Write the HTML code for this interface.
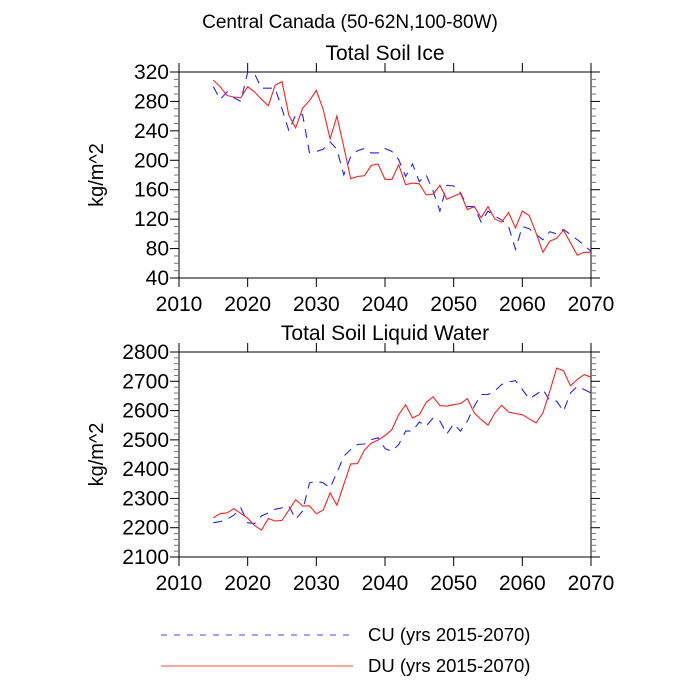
<!DOCTYPE html>
<html><head><meta charset="utf-8"><style>
html,body{margin:0;padding:0;background:#fff;}
svg{display:block;font-family:"Liberation Sans",sans-serif;}
</style></head><body>
<svg id="chart" width="700" height="700" viewBox="0 0 700 700">
<text x="350" y="28" font-size="19" text-anchor="middle">Central Canada (50-62N,100-80W)</text>
<g id="p1"></g>
<g id="p2"></g>
<g>
<line x1="161" y1="635" x2="353" y2="635" stroke="#4444ff" stroke-width="1" stroke-dasharray="6,7"/>
<text x="368" y="641" font-size="18.5">CU (yrs 2015-2070)</text>
<line x1="161" y1="666" x2="353" y2="666" stroke="#ff4444" stroke-width="1"/>
<text x="368" y="672" font-size="18.5">DU (yrs 2015-2070)</text>
</g>
</svg>
<script>
const years = [];
for (let y = 2015; y <= 2070; y++) years.push(y);
const iceCU = [300,283,293,285,280,320,318,298,298,298,270,240,262,262,210,212,215,225,215,180,205,213,216,210,210,216,212,201,178,195,171,180,158,131,166,165,156,137,137,116,131,124,119,110,79,110,107,99,92,103,100,106,99,92,85,76];
const iceDU = [309,300,288,286,285,300,293,283,274,302,307,261,244,271,281,295,269,229,260,218,175,178,179,193,195,174,174,194,167,169,168,153,154,166,147,151,155,133,137,122,137,120,116,129,108,131,125,101,75,90,94,105,88,71,75,75];
const liqCU = [2217,2221,2229,2243,2268,2217,2214,2240,2251,2263,2268,2274,2229,2257,2353,2359,2353,2336,2388,2444,2467,2484,2486,2501,2507,2470,2461,2484,2530,2530,2561,2547,2575,2564,2520,2555,2530,2564,2615,2655,2655,2668,2689,2698,2702,2672,2640,2655,2672,2634,2632,2598,2660,2683,2672,2660];
const liqDU = [2234,2248,2251,2265,2249,2232,2208,2192,2231,2223,2225,2260,2296,2274,2275,2248,2260,2319,2277,2348,2418,2419,2465,2489,2499,2515,2535,2586,2620,2575,2586,2628,2647,2617,2615,2620,2624,2641,2592,2569,2550,2592,2618,2595,2590,2586,2572,2558,2592,2666,2745,2736,2685,2706,2723,2714];
const xTicks = [2010,2020,2030,2040,2050,2060,2070];
const iceTicks = [40,80,120,160,200,240,280,320];
const liqTicks = [2100,2200,2300,2400,2500,2600,2700,2800];

const NS = "http://www.w3.org/2000/svg";
function mk(parent, tag, attrs) {
  const e = document.createElementNS(NS, tag);
  for (const k in attrs) e.setAttribute(k, attrs[k]);
  parent.appendChild(e);
  return e;
}
const L = 179, R = 591;
function xs(v) { return L + (v - 2010) / 60 * (R - L); }

function panel(g, top, bot, ymin, ymax, yTicks, minorStep, title, cu, du, prefix) {
  const ys = v => bot - (v - ymin) / (ymax - ymin) * (bot - top);
  const frame = mk(g, 'rect', {x: L, y: top, width: R - L, height: bot - top, fill: 'none', stroke: '#000', 'stroke-width': 1});
  
  
  const t = mk(g, 'text', {x: (L + R) / 2, y: top - 12, 'font-size': 21, 'text-anchor': 'middle'});
  t.textContent = title;
  
  
  const yl = mk(g, 'text', {x: 0, y: 0, 'font-size': 20, 'text-anchor': 'middle', transform: `translate(103,${(top + bot) / 2}) rotate(-90)`});
  yl.textContent = 'kg/m^2';
  
  
  xTicks.forEach(v => {
    const x = xs(v);
    mk(g, 'line', {x1: x, y1: bot, x2: x, y2: bot + 9, stroke: '#000'});
    mk(g, 'line', {x1: x, y1: top, x2: x, y2: top - 9, stroke: '#000'});
    const tx = mk(g, 'text', {x: x, y: bot + 33, 'font-size': 21, 'text-anchor': 'middle'});
    tx.textContent = v;
    
    
  });
  for (let v = ymin; v <= ymax + 0.001; v += minorStep) {
    const y = ys(v);
    const major = yTicks.indexOf(v) >= 0;
    const len = major ? 9 : 5;
    mk(g, 'line', {x1: L, y1: y, x2: L - len, y2: y, stroke: major ? '#000' : '#777'});
    mk(g, 'line', {x1: R, y1: y, x2: R + len, y2: y, stroke: major ? '#000' : '#777'});
  }
  yTicks.forEach(v => {
    const tx = mk(g, 'text', {x: L - 10, y: ys(v) + 7, 'font-size': 21, 'text-anchor': 'end'});
    tx.textContent = v;
    
    
  });
  const pts = arr => arr.map((v, i) => xs(years[i]).toFixed(1) + ',' + ys(v).toFixed(1)).join(' ');
  const l1 = mk(g, 'polyline', {points: pts(cu), fill: 'none', stroke: '#2222ff', 'stroke-width': 1.1, 'stroke-dasharray': '9,7'});
  
  
  const l2 = mk(g, 'polyline', {points: pts(du), fill: 'none', stroke: '#ff2020', 'stroke-width': 1.1});
  
  
}
panel(document.getElementById('p1'), 72, 278, 40, 320, iceTicks, 10, 'Total Soil Ice', iceCU, iceDU, 'ice');
panel(document.getElementById('p2'), 352, 557, 2100, 2800, liqTicks, 20, 'Total Soil Liquid Water', liqCU, liqDU, 'liquid');
</script>
</body></html>
